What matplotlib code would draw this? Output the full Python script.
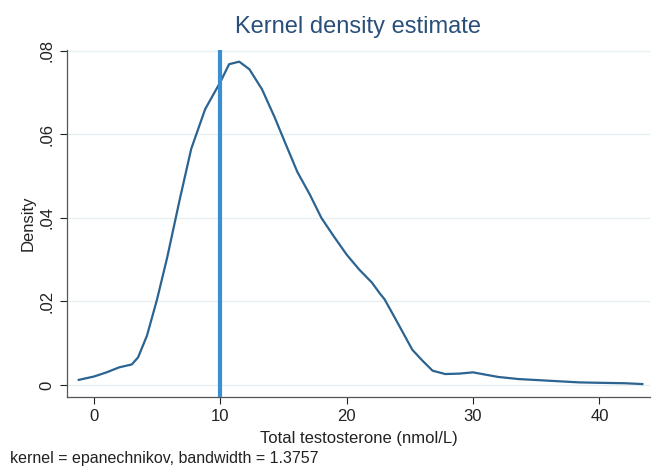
import numpy as np
import matplotlib as mpl
mpl.use('agg')
import matplotlib.pyplot as plt

plt.rcParams['font.family'] = ['Liberation Sans', 'DejaVu Sans']

# kernel density estimate
testo = [-1.2, 0.0, 1.0, 2.0, 3.0, 3.5, 4.2, 5.0, 5.8, 6.8, 7.7, 8.8, 10.0, 10.7,
         11.5, 12.3, 13.3, 14.3, 15.2, 16.1, 17.1, 18.0, 19.0, 20.0, 21.0, 22.0,
         22.6, 23.0, 23.9, 25.2, 26.0, 26.8, 27.8, 28.9, 30.0, 30.9, 32.0, 33.6,
         36.0, 38.4, 40.0, 42.0, 43.4]
density = [0.0012, 0.0020, 0.0030, 0.0042, 0.0049, 0.0066, 0.0118, 0.0205, 0.0305,
           0.0445, 0.0565, 0.0660, 0.0725, 0.0768, 0.0774, 0.0756, 0.0708, 0.0641,
           0.0575, 0.0510, 0.0455, 0.0400, 0.0355, 0.0312, 0.0276, 0.0245, 0.0220,
           0.0205, 0.0156, 0.0084, 0.0058, 0.0034, 0.0026, 0.0027, 0.0030, 0.0025,
           0.0019, 0.0014, 0.0010, 0.0006, 0.0005, 0.0004, 0.0002]
cutoff = 10

fig = plt.figure(figsize=(6.54, 4.68), dpi=100)
ax = fig.add_axes([0.1024, 0.1517, 0.8914, 0.7415])

ax.plot(testo, density, color='#2b6391', lw=1.6, zorder=3)
ax.axvline(cutoff, color='#3a8fd3', lw=3.0, zorder=4)

ax.set_xlim(-2.13, 44.0)
ax.set_ylim(-0.0029, 0.0802)
ax.set_xticks([0, 10, 20, 30, 40])
ax.set_yticks([0, 0.02, 0.04, 0.06, 0.08])
ax.set_yticklabels(['0', '.02', '.04', '.06', '.08'], rotation=90, va='center')
ax.tick_params(labelsize=12, colors='#222222', length=5, width=0.8)
ax.tick_params(axis='y', pad=4)
ax.grid(axis='y', color='#e6eff2', lw=1.0)
ax.set_axisbelow(True)
for s in ['top', 'right']:
    ax.spines[s].set_visible(False)
for s in ['left', 'bottom']:
    ax.spines[s].set_color('#555555')
    ax.spines[s].set_linewidth(0.9)

ax.set_xlabel('Total testosterone (nmol/L)', fontsize=12, color='#222222', labelpad=5)
ax.set_ylabel('Density', fontsize=12, color='#222222', labelpad=3)
ax.set_title('Kernel density estimate', fontsize=17, color='#2a4f7a', pad=12)
fig.text(0.015, 0.01, 'kernel = epanechnikov, bandwidth = 1.3757', fontsize=11.5,
         color='#222222')

fig.savefig('out.png')
